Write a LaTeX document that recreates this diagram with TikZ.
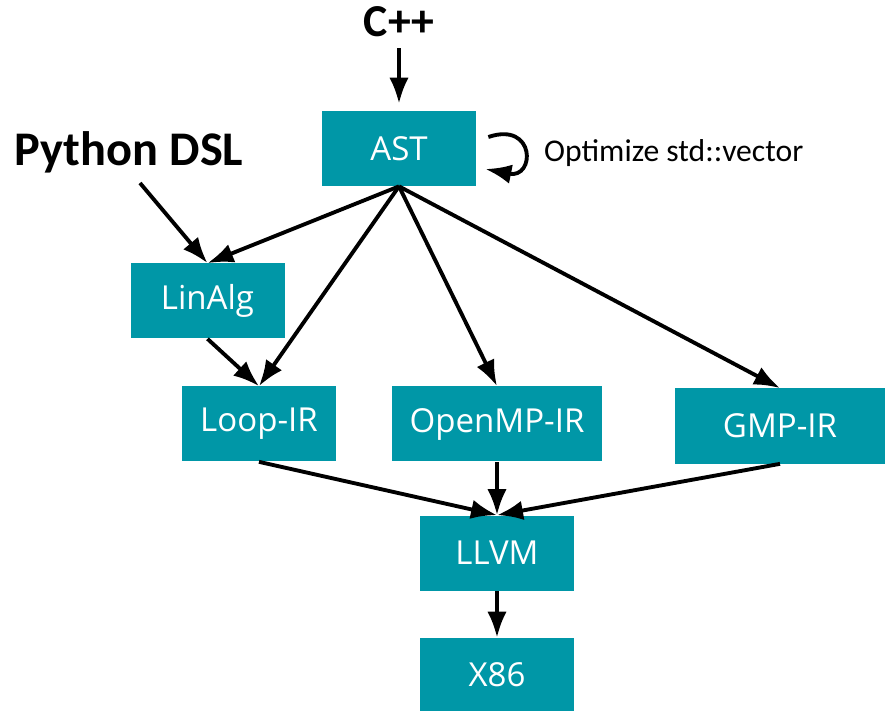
\documentclass[tikz,border=0pt]{standalone}
\usepackage{fontspec}
\setmainfont{Carlito}
\newfontfamily\boxfont{Open Sans}
\usepackage{tikz}
\usetikzlibrary{arrows.meta}
\definecolor{stageteal}{RGB}{0,151,167}

\begin{document}
\begin{tikzpicture}[
  stage/.style={fill=stageteal, text=white, minimum width=3.08cm, minimum height=1.5cm, inner sep=0pt, font=\boxfont\fontsize{18.8}{20}\selectfont},
  widestage/.style={stage, minimum width=4.2cm},
  source/.style={font=\bfseries\fontsize{26}{30}\selectfont},
  flow/.style={-{Latex[length=5.2mm,width=3.9mm]}, line width=2.2pt}
]
\useasboundingbox (0,0) rectangle (17.8,14.22);

% Sorgenti
\node[source] (cpp) at (7.98,13.78) {C++};
\node[source, font=\bfseries\fontsize{27.5}{30}\selectfont] (python) at (2.58,11.18) {Python DSL};
\coordinate (pyout) at (2.8,10.56);

% Stadi intermedi
\node[stage] (ast) at (7.98,11.25) {AST};
\node[stage] (linalg) at (4.15,8.2) {LinAlg};
\node[stage] (loop) at (5.18,5.74) {Loop-IR};
\node[widestage] (openmp) at (9.94,5.74) {OpenMP-IR};
\node[widestage] (gmp) at (15.6,5.70) {GMP-IR};
\node[stage] (llvm) at (9.94,3.16) {LLVM};
\node[stage, minimum height=1.46cm] (x86) at (9.94,0.73) {X86};

% Ottimizzazione sull'AST
\node[anchor=west, font=\fontsize{18}{20}\selectfont] (opt) at (10.76,11.16) {Optimize std::vector};
\draw[flow] ([xshift=2.4mm,yshift=2.3mm]ast.east) .. controls +(0.95,0.32) and +(1.0,-0.2) .. ([xshift=1.8mm,yshift=-4.1mm]ast.east);

% Collegamenti
\draw[flow, shorten <=1mm, shorten >=1.4mm] (cpp) -- (ast);
\draw[flow] (pyout) -- (linalg.north);
\draw[flow] (ast.south) -- (linalg.north);
\draw[flow] (ast.south) -- (loop.north);
\draw[flow] (ast.south) -- (openmp.north);
\draw[flow] (ast.south) -- (gmp.north);
\draw[flow] (linalg.south) -- (loop.north);
\foreach \src in {loop, openmp, gmp}{
  \draw[flow] (\src.south) -- (llvm.north);
}
\draw[flow] (llvm.south) -- (x86.north);

\end{tikzpicture}
\end{document}
